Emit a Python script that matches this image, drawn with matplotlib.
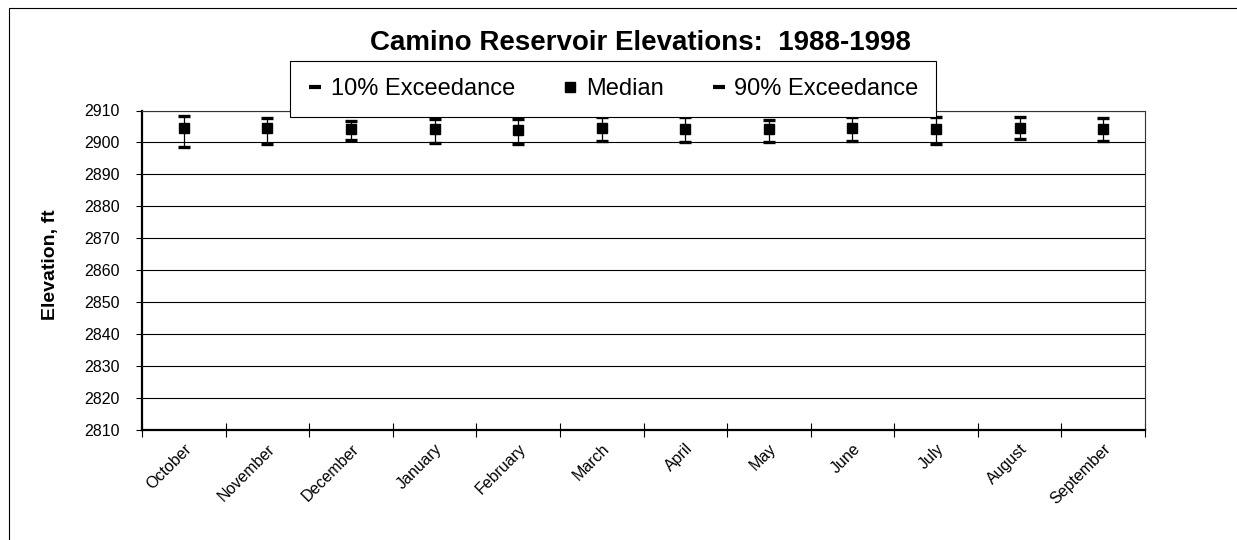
import matplotlib
matplotlib.use('Agg')
import matplotlib.pyplot as plt
from matplotlib.lines import Line2D
from matplotlib.patches import Rectangle
import matplotlib.transforms as mtransforms
import numpy as np

plt.rcParams['font.family'] = ['Liberation Sans', 'DejaVu Sans']

# ---- data ----
months = ['October', 'November', 'December', 'January', 'February', 'March',
          'April', 'May', 'June', 'July', 'August', 'September']
exceed10 = [2908.3, 2907.6, 2906.8, 2907.4, 2907.3, 2907.9,
            2907.9, 2907.1, 2907.9, 2907.9, 2907.9, 2907.6]
median = [2904.5, 2904.5, 2904.2, 2904.1, 2903.9, 2904.5,
          2904.3, 2904.2, 2904.6, 2904.3, 2904.6, 2904.3]
exceed90 = [2898.6, 2899.4, 2900.9, 2899.9, 2899.4, 2900.6,
            2900.1, 2900.1, 2900.4, 2899.6, 2901.2, 2900.5]
yticks = list(range(2810, 2911, 10))
title = 'Camino Reservoir Elevations:  1988-1998'
ylabel = 'Elevation, ft'
legend_labels = ['10% Exceedance', 'Median', '90% Exceedance']

W, H = 1237, 540
fig = plt.figure(figsize=(W / 100, H / 100), dpi=100)


def fx(px):
    return px / W


def fy(py):
    return 1 - py / H


# outer frame (runs off the right and bottom edges)
fig.patches.append(Rectangle((fx(9), -0.05), 1.2, fy(8) + 0.05,
                             transform=fig.transFigure, fill=False,
                             edgecolor='black', linewidth=0.8, zorder=0))

ax = fig.add_axes([fx(142), fy(430), fx(1145) - fx(142), fy(110.5) - fy(430)])
x = np.arange(len(months))

ax.vlines(x, exceed90, exceed10, color='black', linewidth=0.9, zorder=3)
ax.plot(x, exceed10, linestyle='none', marker='_', markersize=8, mew=2.4,
        color='black', zorder=4)
ax.plot(x, exceed90, linestyle='none', marker='_', markersize=8, mew=2.4,
        color='black', zorder=4)
ax.plot(x, median, linestyle='none', marker='s', markersize=6.5,
        color='black', zorder=5)

ax.set_xlim(-0.5, len(months) - 0.5)
ax.set_ylim(yticks[0], yticks[-1])
ax.set_yticks(yticks)
ax.yaxis.grid(True, color='black', linewidth=0.8)
ax.set_axisbelow(True)

ax.set_xticks(np.arange(-0.5, len(months), 1.0))
ax.set_xticklabels([])
ax.set_xticks(x, minor=True)
ax.set_xticklabels(months, minor=True, rotation=45, ha='right', va='top',
                   rotation_mode='anchor', fontsize=11.5)
offset = mtransforms.ScaledTranslation(0 / 100, 0, fig.dpi_scale_trans)
for lab in ax.get_xticklabels(minor=True):
    lab.set_transform(lab.get_transform() + offset)
ax.tick_params(axis='x', which='major', direction='inout', length=10, width=0.8)
ax.tick_params(axis='x', which='minor', length=0, pad=8)
ax.tick_params(axis='y', direction='out', length=4, width=0.8, labelsize=11.5, pad=12)

for s in ['left', 'bottom']:
    ax.spines[s].set_linewidth(1.6)
    ax.spines[s].set_color('black')
for s in ['top', 'right']:
    ax.spines[s].set_linewidth(0.8)
    ax.spines[s].set_color('#333333')

fig.text(fx(640), fy(50), title, ha='center', va='baseline',
         fontsize=20, fontweight='bold')
fig.text(fx(51), fy(265), ylabel, rotation=90, ha='center', va='center',
         fontsize=14, fontweight='bold')

h_dash = Line2D([], [], linestyle='none', marker='_', markersize=9, mew=3, color='black')
h_sq = Line2D([], [], linestyle='none', marker='s', markersize=6.5, color='black')
leg = fig.legend([h_dash, h_sq, h_dash], legend_labels, loc='upper left',
                 bbox_to_anchor=(fx(290), fy(61)), ncol=3, frameon=True,
                 fancybox=False, edgecolor='black', framealpha=1,
                 fontsize=17, borderpad=0.72, handlelength=0.7,
                 handletextpad=0.3, columnspacing=2.0, borderaxespad=0)
leg.get_frame().set_linewidth(0.8)

fig.savefig('out.png', dpi=100)
